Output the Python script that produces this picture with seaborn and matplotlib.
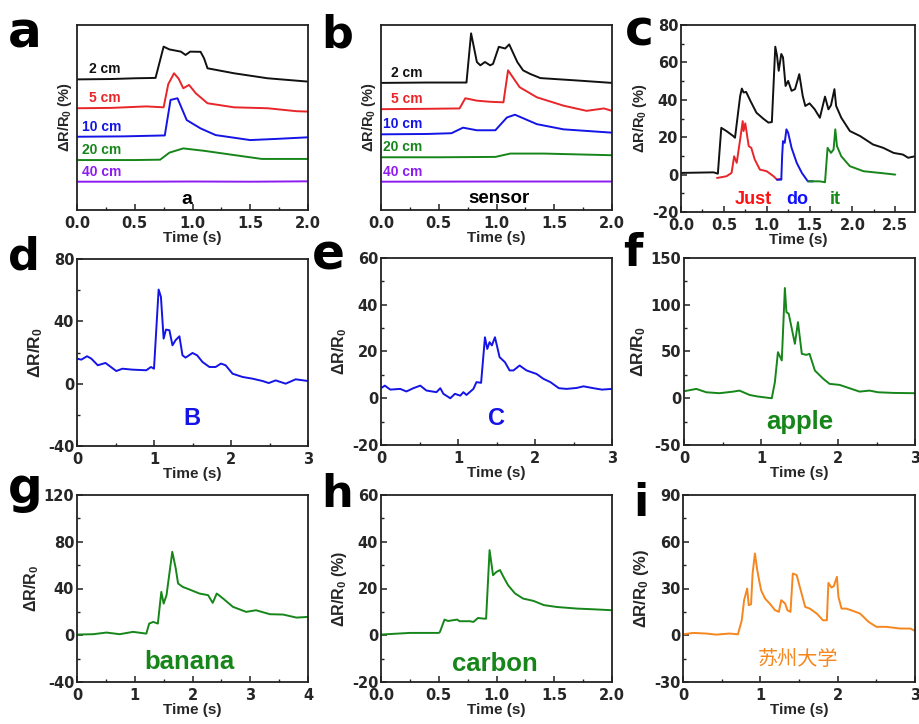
import matplotlib
matplotlib.use("Agg")
import matplotlib.pyplot as plt
import seaborn as sns
from matplotlib.ticker import AutoMinorLocator, MultipleLocator, FormatStrFormatter

sns.set_theme(style="ticks")
plt.rcParams["font.family"] = ["Liberation Sans", "Noto Sans CJK SC", "DejaVu Sans"]
plt.rcParams["font.weight"] = "bold"
plt.rcParams["axes.labelweight"] = "bold"
plt.rcParams["axes.unicode_minus"] = False
plt.rcParams["mathtext.fontset"] = "custom"
plt.rcParams["mathtext.rm"] = "Liberation Sans:bold"
plt.rcParams["mathtext.bf"] = "Liberation Sans:bold"
plt.rcParams["mathtext.it"] = "Liberation Sans:bold"
plt.rcParams["mathtext.default"] = "bf"

# ---------------- data ----------------
# panel a (offset traces, arbitrary units)
a_labels = ["2 cm", "5 cm", "10 cm", "20 cm", "40 cm"]
a_x_2 = [0, 0.3, 0.5, 0.68, 0.75, 0.8, 0.9, 0.94, 0.98, 1.07, 1.1, 1.13, 1.36, 1.65, 2.0]
a_y_2 = [70.6, 70.8, 71.2, 71.4, 88.3, 86.8, 85.6, 83.8, 85.6, 85.5, 82.0, 76.6, 73.9, 71.2, 69.4]
a_x_5 = [0, 0.3, 0.6, 0.75, 0.79, 0.84, 0.88, 0.92, 0.97, 1.03, 1.13, 1.36, 1.65, 1.9, 2.0]
a_y_5 = [55, 55.2, 56, 55.5, 68, 73.9, 71, 65.8, 67.6, 63, 57.7, 55.5, 55, 53.4, 53.2]
a_x_10 = [0, 0.4, 0.76, 0.81, 0.87, 0.95, 1.07, 1.2, 1.5, 1.75, 2.0]
a_y_10 = [39.6, 39.8, 40.3, 59.5, 60.4, 48.6, 44.1, 40.5, 37.8, 38.5, 39.3]
a_x_20 = [0, 0.5, 0.72, 0.8, 0.92, 1.1, 1.36, 1.6, 2.0]
a_y_20 = [27, 27, 27.2, 31, 33.3, 32, 29.7, 27.6, 27.6]
a_x_40 = [0, 0.5, 1.0, 1.5, 2.0]
a_y_40 = [15.3, 15.3, 15.4, 15.3, 15.5]

# panel b (offset traces, arbitrary units)
b_x_2 = [0, 0.4, 0.74, 0.78, 0.83, 0.86, 0.9, 0.945, 0.97, 1.02, 1.075, 1.11, 1.18, 1.23, 1.29, 1.38, 1.7, 2.0]
b_y_2 = [68.7, 68.9, 68.9, 95.5, 80, 78.2, 80, 78.2, 79, 88.2, 87.3, 89.5, 80, 75.5, 73.6, 71.3, 70, 68.7]
b_x_5 = [0, 0.4, 0.68, 0.73, 0.83, 0.945, 1.06, 1.1, 1.2, 1.35, 1.58, 1.78, 1.93, 2.0]
b_y_5 = [54.5, 54.7, 54.9, 60.4, 59.1, 58.5, 58.2, 75.5, 66.4, 60.9, 56.4, 53.6, 54.9, 53.6]
b_x_10 = [0, 0.4, 0.61, 0.71, 0.83, 0.99, 1.09, 1.16, 1.35, 1.58, 2.0]
b_y_10 = [40.9, 41.1, 41.5, 44.5, 43.1, 43.1, 50, 51.5, 46.4, 43.6, 41.8]
b_x_20 = [0, 0.5, 0.99, 1.12, 1.41, 2.0]
b_y_20 = [28.5, 28.5, 28.7, 30.5, 30.5, 29.6]
b_x_40 = [0, 1.0, 2.0]
b_y_40 = [15.3, 15.4, 15.4]

# panel c
c_x_all = [0, 0.38, 0.43, 0.47, 0.53, 0.61, 0.63, 0.69, 0.71, 0.73, 0.76, 0.81, 0.88, 0.96, 1.02,
           1.06, 1.10, 1.12, 1.14, 1.17, 1.19, 1.22, 1.25, 1.29, 1.33, 1.38, 1.42, 1.45, 1.50,
           1.56, 1.62, 1.68, 1.72, 1.75, 1.79, 1.81, 1.87, 1.97, 2.09, 2.24, 2.36, 2.48, 2.59,
           2.65, 2.73]
c_y_all = [0.9, 1.2, 0.5, 25, 23.3, 20.6, 19.7, 42, 46, 43.9, 44.2, 39.4, 33.1, 29.9, 27.8,
           28.1, 68.4, 63.6, 55.5, 64.5, 62.7, 47.4, 50.1, 44.8, 45.7, 53.7, 42.1, 36.7, 38.1,
           34.9, 30.4, 41.7, 34.9, 37.1, 45.7, 36.7, 30.4, 23.3, 20.6, 16.1, 14.3, 11.6, 10.7,
           9.0, 9.8]
c_x_just = [0.42, 0.53, 0.59, 0.62, 0.65, 0.69, 0.72, 0.73, 0.75, 0.79, 0.82, 0.86, 0.92, 1.0, 1.08, 1.12, 1.17]
c_y_just = [-1.8, -0.9, 0.9, 9.8, 6.3, 18.8, 28.6, 23.3, 27.4, 15.2, 14.3, 8.1, 2.7, 1.8, -0.9, -2.7, -2.3]
c_x_do = [1.12, 1.17, 1.18, 1.19, 1.21, 1.23, 1.25, 1.29, 1.35, 1.41, 1.48, 1.54]
c_y_do = [-2.7, -2.7, 10, 17.9, 17.0, 24.2, 22.4, 14.3, 6.3, 0.9, -3.6, -3.6]
c_x_it = [1.48, 1.62, 1.68, 1.71, 1.75, 1.78, 1.80, 1.82, 1.87, 1.97, 2.13, 2.32, 2.50]
c_y_it = [-3.6, -3.6, -4.1, 14.3, 11.6, 13.4, 24.2, 15.2, 9.8, 4.5, 1.8, 0.9, 0.0]
c_words = ["Just", "do", "it"]

# panel d  ("B")
d_x = [0, 0.056, 0.13, 0.185, 0.27, 0.37, 0.44, 0.51, 0.59, 0.72, 0.9, 0.96, 1.0, 1.06, 1.09,
       1.125, 1.155, 1.2, 1.24, 1.28, 1.33, 1.37, 1.41, 1.5, 1.56, 1.63, 1.72, 1.8, 1.87, 1.93,
       2.02, 2.15, 2.28, 2.41, 2.49, 2.58, 2.71, 2.84, 3.0]
d_y = [16.1, 15.4, 17.6, 16.1, 11.8, 13.3, 10.7, 8.1, 9.6, 9.0, 8.6, 10.7, 9.6, 60.4, 55.7,
       28.9, 34.7, 34.3, 24.6, 27.9, 30.4, 18.2, 16.7, 19.7, 18.2, 13.9, 10.7, 10.7, 12.9, 11.8,
       6.4, 4.3, 3.2, 1.7, 0.4, 2.1, 0.0, 2.8, 1.7]

# panel e  ("C")
e_x = [0, 0.05, 0.12, 0.25, 0.33, 0.42, 0.51, 0.59, 0.72, 0.77, 0.81, 0.9, 0.96, 1.03, 1.07,
       1.11, 1.2, 1.24, 1.3, 1.35, 1.38, 1.41, 1.44, 1.48, 1.54, 1.61, 1.67, 1.72, 1.8, 1.89,
       2.02, 2.11, 2.2, 2.31, 2.41, 2.54, 2.63, 2.76, 2.87, 3.0]
e_y = [4.3, 5.4, 3.7, 4.0, 2.9, 4.3, 5.4, 3.3, 2.6, 4.3, 1.9, 0.0, 1.9, 1.1, 2.6,
       1.4, 4.0, 6.9, 6.6, 26.1, 21.1, 24.0, 22.6, 26.1, 17.6, 15.4, 11.9, 11.9, 14.0, 11.9,
       10.4, 8.3, 6.9, 4.3, 4.0, 4.4, 5.1, 4.3, 3.7, 4.0]

# panel f  ("apple")
f_x = [0, 0.16, 0.29, 0.46, 0.64, 0.72, 0.85, 0.94, 1.03, 1.14, 1.18, 1.22, 1.27, 1.31, 1.33,
       1.36, 1.40, 1.44, 1.48, 1.53, 1.59, 1.63, 1.70, 1.81, 1.89, 2.02, 2.15, 2.28, 2.41, 2.52,
       2.72, 3.0]
f_y = [7.5, 10.0, 6.4, 5.4, 7.1, 8.2, 3.6, 2.1, 1.1, 0.0, 17.1, 49.3, 40.4, 117.9, 92.1,
       90.4, 74.3, 58.2, 81.4, 47.5, 46.4, 47.5, 29.6, 20.7, 15.4, 14.3, 10.7, 7.1, 8.2, 6.4,
       5.7, 5.4]

# panel g  ("banana")
g_x = [0, 0.28, 0.51, 0.74, 0.97, 1.2, 1.25, 1.32, 1.4, 1.46, 1.5, 1.55, 1.65, 1.71, 1.75,
       1.83, 1.95, 2.12, 2.27, 2.35, 2.42, 2.53, 2.7, 2.93, 3.1, 3.34, 3.57, 3.8, 4.0]
g_y = [0.6, 0.9, 2.3, 0.9, 2.9, 1.4, 10.0, 11.4, 10.0, 37.1, 27.1, 34.3, 71.4, 57.1, 44.3,
       41.4, 39.1, 35.7, 34.3, 27.7, 35.7, 31.4, 24.3, 20.0, 21.4, 18.0, 17.7, 15.1, 15.7]

# panel h  ("carbon")
h_x = [0, 0.25, 0.5, 0.51, 0.55, 0.58, 0.66, 0.68, 0.77, 0.8, 0.84, 0.89, 0.91, 0.94, 0.97,
       1.0, 1.03, 1.06, 1.1, 1.16, 1.23, 1.32, 1.41, 1.52, 1.7, 1.84, 2.0]
h_y = [0.3, 1.0, 1.0, 1.4, 6.7, 6.1, 6.7, 6.0, 6.0, 5.7, 7.4, 7.1, 7.1, 36.4, 25.7,
       27.1, 27.9, 25.0, 21.4, 17.9, 15.7, 14.7, 12.9, 12.1, 11.4, 11.1, 10.7]

# panel i  ("苏州大学")
i_x = [0, 0.13, 0.3, 0.43, 0.6, 0.71, 0.76, 0.79, 0.83, 0.85, 0.88, 0.9, 0.93, 0.96, 0.98,
       1.01, 1.06, 1.12, 1.19, 1.24, 1.27, 1.32, 1.35, 1.39, 1.42, 1.47, 1.51, 1.58, 1.64,
       1.73, 1.81, 1.86, 1.88, 1.92, 1.95, 1.99, 2.01, 2.05, 2.11, 2.2, 2.29, 2.4, 2.5, 2.63,
       2.81, 2.94, 3.0]
i_y = [0.6, 1.5, 1.1, 0.4, 1.1, 0.6, 9.6, 22.5, 30.0, 19.3, 19.9, 39.6, 52.5, 41.8, 36.4,
       28.9, 23.6, 20.4, 16.1, 15.0, 22.5, 20.4, 16.1, 15.0, 39.6, 38.6, 31.1, 18.2, 17.1,
       13.9, 9.6, 9.6, 33.6, 30.6, 31.5, 37.5, 24.6, 17.1, 17.1, 15.6, 13.9, 8.6, 5.4, 5.4,
       4.3, 4.3, 2.8]

# ---------------- styling ----------------
BLACK = "#111111"
RED = "#e8262a"
BLUE = "#1414e6"
GREEN = "#17861a"
PURPLE = "#8c1cf0"
ORANGE = "#f5871f"

fig = plt.figure(figsize=(9.19, 7.24), dpi=100)
W, H = 919, 724
TICKFONT = ["DejaVu Sans"]


def make_ax(left, top, right, bottom):
    return fig.add_axes([left / W, 1 - bottom / H, (right - left) / W, (bottom - top) / H])


def style(ax, xlim, xmaj, xfmt, ylim=None, ymaj=None, ylabel=None, ylsize=10.5, yticks=True):
    ax.set_xlim(*xlim)
    ax.xaxis.set_major_locator(MultipleLocator(xmaj))
    ax.xaxis.set_minor_locator(AutoMinorLocator(2))
    ax.xaxis.set_major_formatter(FormatStrFormatter(xfmt))
    if ylim is not None:
        ax.set_ylim(*ylim)
    if yticks:
        ax.yaxis.set_major_locator(MultipleLocator(ymaj))
        ax.yaxis.set_minor_locator(AutoMinorLocator(2))
    else:
        ax.set_yticks([])
    ax.tick_params(axis="both", which="major", direction="in", length=4, width=1.1,
                   labelsize=10.5, top=False, right=False, color="#222222")
    ax.tick_params(axis="x", which="major", pad=4.5)
    ax.tick_params(axis="y", which="major", pad=2)
    ax.tick_params(axis="both", which="minor", direction="in", length=2, width=1.0,
                   top=False, right=False, color="#222222")
    for lab in ax.get_xticklabels() + ax.get_yticklabels():
        lab.set_fontweight("bold")
        lab.set_family(TICKFONT)
    for s in ax.spines.values():
        s.set_linewidth(1.3)
        s.set_color("#222222")
    ax.set_xlabel("Time (s)", fontsize=11, fontweight="bold", labelpad=0)
    ax.set_ylabel(ylabel, fontsize=ylsize, fontweight="bold", labelpad=2)
    ax.set_facecolor("white")


def line(ax, x, y, color, lw=1.4):
    sns.lineplot(x=x, y=y, ax=ax, color=color, lw=lw, estimator=None, sort=False, legend=False)


LBL_PCT = r"ΔR/R$_0$ (%)"
LBL = r"ΔR/R$_0$"

# ---- a ----
ax = make_ax(77, 25, 308, 210)
for xs, ys, c in [(a_x_2, a_y_2, BLACK), (a_x_5, a_y_5, RED), (a_x_10, a_y_10, BLUE),
                  (a_x_20, a_y_20, GREEN), (a_x_40, a_y_40, PURPLE)]:
    line(ax, xs, ys, c)
style(ax, (0, 2.0), 0.5, "%.1f", ylim=(0, 100), ylabel=LBL_PCT, ylsize=10.5, yticks=False)
for lab, (lx, ly), c in zip(a_labels, [(0.1, 72.3), (0.1, 56.8), (0.04, 41.3), (0.04, 28.8), (0.04, 17.0)],
                            [BLACK, RED, BLUE, GREEN, PURPLE]):
    ax.text(lx, ly, lab, color=c, fontsize=10, fontweight="bold", va="bottom", ha="left")
ax.text(0.95, 5.5, "a", fontsize=14, fontweight="bold", ha="center", va="center", color="black")

# ---- b ----
ax = make_ax(381, 25, 612, 210)
for xs, ys, c in [(b_x_2, b_y_2, BLACK), (b_x_5, b_y_5, RED), (b_x_10, b_y_10, BLUE),
                  (b_x_20, b_y_20, GREEN), (b_x_40, b_y_40, PURPLE)]:
    line(ax, xs, ys, c)
style(ax, (0, 2.0), 0.5, "%.1f", ylim=(0, 100), ylabel=LBL_PCT, ylsize=10.5, yticks=False)
for lab, (lx, ly), c in zip(a_labels, [(0.09, 70.5), (0.09, 56.3), (0.02, 42.8), (0.02, 30.3), (0.02, 17.0)],
                            [BLACK, RED, BLUE, GREEN, PURPLE]):
    ax.text(lx, ly, lab, color=c, fontsize=10, fontweight="bold", va="bottom", ha="left")
ax.text(1.02, 6.0, "sensor", fontsize=13.5, fontweight="bold", ha="center", va="center", color="black")

# ---- c ----
ax = make_ax(681, 25, 915, 212)
line(ax, c_x_all, c_y_all, BLACK)
line(ax, c_x_just, c_y_just, RED)
line(ax, c_x_do, c_y_do, BLUE)
line(ax, c_x_it, c_y_it, GREEN)
style(ax, (0, 2.73), 0.5, "%.1f", ylim=(-20, 80), ymaj=20, ylabel=LBL_PCT, ylsize=10.5)
for w, wx, c in zip(c_words, [0.84, 1.36, 1.80], ["#ff1010", "#1010ff", "#138a13"]):
    ax.text(wx, -13.4, w, color=c, fontsize=13, fontweight="bold", ha="center", va="center")

# ---- d ----
ax = make_ax(77, 259, 308, 446)
line(ax, d_x, d_y, BLUE)
style(ax, (0, 3), 1, "%d", ylim=(-40, 80), ymaj=40, ylabel=LBL, ylsize=12.5)
ax.text(1.49, -22.5, "B", color=BLUE, fontsize=17, fontweight="bold", ha="center", va="center")

# ---- e ----
ax = make_ax(381, 258, 612, 445)
line(ax, e_x, e_y, BLUE)
style(ax, (0, 3), 1, "%d", ylim=(-20, 60), ymaj=20, ylabel=LBL, ylsize=11.5)
ax.text(1.5, -8.6, "C", color=BLUE, fontsize=17, fontweight="bold", ha="center", va="center")

# ---- f ----
ax = make_ax(684, 258, 915, 445)
line(ax, f_x, f_y, GREEN)
style(ax, (0, 3), 1, "%d", ylim=(-50, 150), ymaj=50, ylabel=LBL, ylsize=12.5)
ax.text(1.5, -25.7, "apple", color=GREEN, fontsize=18.5, fontweight="bold", ha="center", va="center")

# ---- g ----
ax = make_ax(77, 495, 308, 682)
line(ax, g_x, g_y, GREEN)
style(ax, (0, 4), 1, "%d", ylim=(-40, 120), ymaj=40, ylabel=LBL, ylsize=11.5)
ax.text(1.95, -22.9, "banana", color=GREEN, fontsize=18.5, fontweight="bold", ha="center", va="center")

# ---- h ----
ax = make_ax(381, 495, 612, 682)
line(ax, h_x, h_y, GREEN)
style(ax, (0, 2.0), 0.5, "%.1f", ylim=(-20, 60), ymaj=20, ylabel=LBL_PCT, ylsize=11.5)
ax.text(0.99, -12.1, "carbon", color=GREEN, fontsize=18.5, fontweight="bold", ha="center", va="center")

# ---- i ----
ax = make_ax(683, 495, 915, 682)
line(ax, i_x, i_y, ORANGE)
style(ax, (0, 3), 1, "%d", ylim=(-30, 90), ymaj=30, ylabel=LBL_PCT, ylsize=12)
ax.text(1.49, -15.6, "苏州大学", color=ORANGE, fontsize=14.5, fontweight="normal",
        ha="center", va="center", family=["Noto Sans CJK SC", "DejaVu Sans"])

# ---- panel letters ----
letters = [("a", 8, 47, 36), ("b", 321, 47, 32), ("c", 625, 45, 35),
           ("d", 8, 269, 32), ("e", 312, 270, 35), ("f", 623, 266, 32),
           ("g", 8, 503, 35), ("h", 321, 507, 32), ("i", 633, 516, 32)]
for t, px, py, fs in letters:
    fig.text(px / W, 1 - py / H, t, fontsize=fs, fontweight="bold", va="baseline", ha="left",
             color="black", family=["DejaVu Sans"])

fig.savefig("out.png", dpi=100, facecolor="white")
